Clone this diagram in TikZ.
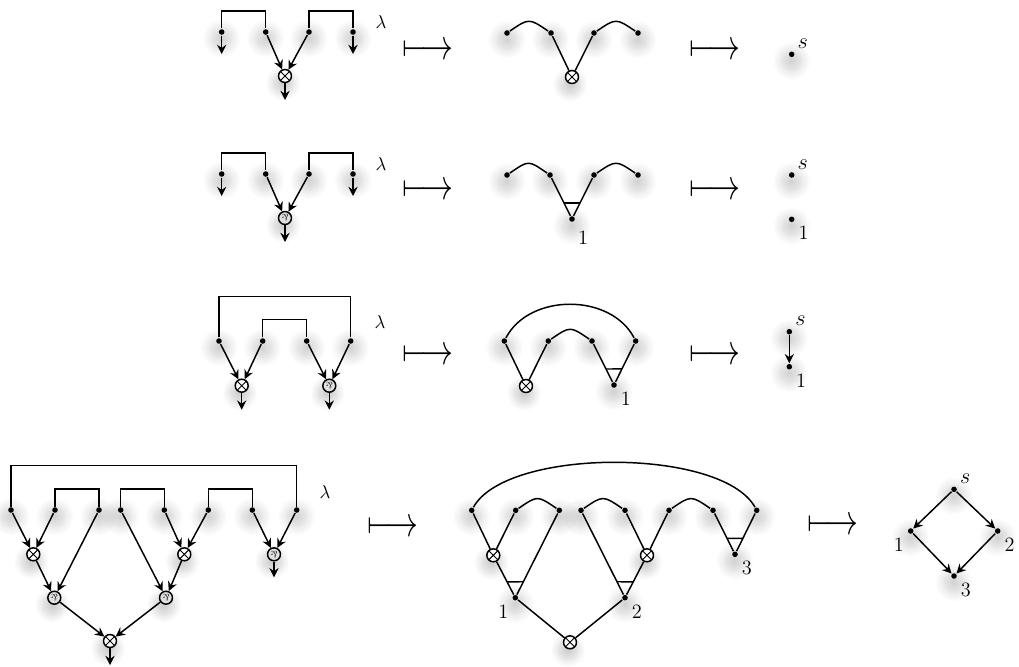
\documentclass[tikz,border=0pt]{standalone}
\usetikzlibrary{arrows.meta,calc,shadows.blur}

\tikzset{
    dot/.style={circle, fill, inner sep=0pt, minimum size=3pt,
        blur shadow={shadow xshift=0pt, shadow yshift=-1pt, shadow scale=3.6,
            shadow opacity=18, shadow blur radius=1.4pt, shadow blur steps=12}},
    tens/.style={circle, draw, fill=white, inner sep=0pt, minimum size=7pt,
        blur shadow={shadow xshift=-0.6pt, shadow yshift=-2.5pt, shadow scale=1.6,
            shadow opacity=18, shadow blur radius=2.5pt, shadow blur steps=12},
        path picture={\draw[line width=0.5pt]
            (path picture bounding box.north west) -- (path picture bounding box.south east)
            (path picture bounding box.north east) -- (path picture bounding box.south west);}},
    parr/.style={circle, draw, fill=gray!25, inner sep=0pt, minimum size=7pt,
        blur shadow={shadow xshift=-0.6pt, shadow yshift=-2.5pt, shadow scale=1.6,
            shadow opacity=18, shadow blur radius=2.5pt, shadow blur steps=12}},
    arr/.style={-{Stealth[length=5pt,width=5pt,inset=1.7pt]}},
    lbl/.style={inner sep=2pt, font=\fontsize{11}{13}\selectfont},
    slbl/.style={inner sep=1.5pt, font=\fontsize{13}{15}\selectfont},
    mapsto/.style={font=\fontsize{16}{16}\selectfont},
}
\newcommand{\parsym}{\scalebox{0.5}{\rotatebox[origin=c]{180}{\&}}}
\newcommand{\mapsym}{\scalebox{1}[1.35]{$\longmapsto$}}
\newcommand{\tribar}[3]{\draw ($(#1)!0.34cm!(#2)$) -- ($(#1)!0.34cm!(#3)$);}

\begin{document}
\begin{tikzpicture}[x=0.019cm, y=-0.019cm, line width=0.8pt]
        \useasboundingbox (0,0) rectangle (1019,666);
        % first row
        \foreach \x [count=\i] in {221.7,265.7,309,353} \node[dot] (a\i) at (\x,32) {};
        \node[tens] (ta) at (285,76) {};
        \draw (a1) -- ++(0,-21) -| (a2);
        \draw (a3) -- ++(0,-21) -| (a4);
        \draw[arr] (a1) -- ++(0,22);
        \draw[arr] (a4) -- ++(0,22);
        \draw[arr] (a2) -- (ta);
        \draw[arr] (a3) -- (ta);
        \draw[arr] (ta) -- ++(0,24);
        \node (la) at (381,22) {$\lambda$};
        \node[mapsto] (fa1) at (428,52) {\mapsym};
        \foreach \x [count=\i] in {507,551,594,638} \node[dot] (b\i) at (\x,33) {};
        \node[tens] (tb) at (572,77) {};
        \draw (b1) .. controls +(22,-15) and +(-22,-15) .. (b2);
        \draw (b3) .. controls +(22,-15) and +(-22,-15) .. (b4);
        \draw (b2) -- (tb);
        \draw (b3) -- (tb);
        \node[mapsto] (fa2) at (715,52) {\mapsym};
        \node[dot, label={[slbl]above right:$s$}] (sa) at (791.7,54.3) {};
        % second row
        \foreach \x [count=\i] in {221.7,265.7,309,353} \node[dot] (c\i) at (\x,174) {};
        \node[parr] (pc) at (285,218) {\parsym};
        \draw (c1) -- ++(0,-21) -| (c2);
        \draw (c3) -- ++(0,-21) -| (c4);
        \draw[arr] (c1) -- ++(0,22);
        \draw[arr] (c4) -- ++(0,22);
        \draw[arr] (c2) -- (pc);
        \draw[arr] (c3) -- (pc);
        \draw[arr] (pc) -- ++(0,24);
        \node (lc) at (381,164) {$\lambda$};
        \node[mapsto] (fc1) at (428,192) {\mapsym};
        \foreach \x [count=\i] in {507,550,594,638} \node[dot] (d\i) at (\x,175) {};
        \node[dot, label={[lbl, label distance=2pt, xshift=6pt]below:1}] (nd) at (572,219) {};
        \draw (d1) .. controls +(22,-15) and +(-22,-15) .. (d2);
        \draw (d3) .. controls +(22,-15) and +(-22,-15) .. (d4);
        \draw (d2) -- (nd);
        \draw (d3) -- (nd);
        \tribar{nd}{d2}{d3}
        \node[mapsto] (fc2) at (715,192) {\mapsym};
        \node[dot, label={[slbl]above right:$s$}] (sc) at (791.7,175) {};
        \node[dot, label={[lbl]below right:1}] (oc) at (791.7,219.3) {};
        % third row
        \foreach \x [count=\i] in {219,262.7,306.7,350.7} \node[dot] (e\i) at (\x,341) {};
        \node[tens] (te) at (241.7,385.7) {};
        \node[parr] (pe) at (329.3,385.7) {\parsym};
        \draw (e1) -- ++(0,-44.3) -| (e4);
        \draw (e2) -- ++(0,-21.7) -| (e3);
        \draw[arr] (e1) -- (te);
        \draw[arr] (e2) -- (te);
        \draw[arr] (e3) -- (pe);
        \draw[arr] (e4) -- (pe);
        \draw[arr] (te) -- ++(0,24);
        \draw[arr] (pe) -- ++(0,24);
        \node (le) at (380,321.7) {$\lambda$};
        \node[mapsto] (fe1) at (428,357) {\mapsym};
        \foreach \x [count=\i] in {504.3,548.3,592,635.7} \node[dot] (g\i) at (\x,341) {};
        \node[tens] (tg) at (526,386) {};
        \node[dot, label={[lbl]below right:1}] (ng) at (614,385) {};
        \draw (g1) .. controls +(25,-48) and +(-25,-48) .. (g4);
        \draw (g2) .. controls +(22,-15) and +(-22,-15) .. (g3);
        \draw (g1) -- (tg);
        \draw (g2) -- (tg);
        \draw (g3) -- (ng);
        \draw (g4) -- (ng);
        \tribar{ng}{g3}{g4}
        \node[mapsto] (fe2) at (715,357) {\mapsym};
        \node[dot, label={[slbl]above right:$s$}] (se) at (789.3,331.7) {};
        \node[dot, label={[lbl]below right:1}] (oe) at (789.3,366.7) {};
        \draw[arr] (se) -- (oe);
        % fourth row
        \foreach \x [count=\i] in {11,55,99,120.7,164.3,208.3,252.3,296.7} \node[dot] (p\i) at (\x,510) {};
        \node[tens] (tp1) at (33.3,554.3) {};
        \node[parr] (pp1) at (54.3,597.7) {\parsym};
        \node[tens] (tp2) at (184.3,554.3) {};
        \node[parr] (pp2) at (166,597.7) {\parsym};
        \node[parr] (pp3) at (274,554.3) {\parsym};
        \node[tens] (tp3) at (110,641) {};
        \draw (p1) -- ++(0,-44.3) -| (p8);
        \draw (p2) -- ++(0,-21) -| (p3);
        \draw (p4) -- ++(0,-21) -| (p5);
        \draw (p6) -- ++(0,-21) -| (p7);
        \draw[arr] (p1) -- (tp1);
        \draw[arr] (p2) -- (tp1);
        \draw[arr] (tp1) -- (pp1);
        \draw[arr] (p3) -- (pp1);
        \draw[arr] (p4) -- (pp2);
        \draw[arr] (p5) -- (tp2);
        \draw[arr] (p6) -- (tp2);
        \draw[arr] (tp2) -- (pp2);
        \draw[arr] (p7) -- (pp3);
        \draw[arr] (p8) -- (pp3);
        \draw[arr] (pp1) -- (tp3);
        \draw[arr] (pp2) -- (tp3);
        \draw[arr] (tp3) -- ++(0,24);
        \draw[arr] (pp3) -- ++(0,23);
        \node (lp) at (325,491.7) {$\lambda$};
        \node[mapsto] (fp1) at (393,529) {\mapsym};
        \foreach \x [count=\i] in {471.7,515.7,559.3,581,625,669,713,756.7} \node[dot] (q\i) at (\x,510.3) {};
        \node[tens] (tq1) at (493.3,555.3) {};
        \node[tens] (tq2) at (647,555.3) {};
        \node[tens] (tq3) at (570,642.3) {};
        \node[dot, label={[lbl]below left:1}] (nq1) at (515.3,597.7) {};
        \node[dot, label={[lbl]below right:2}] (nq2) at (625,597.7) {};
        \node[dot, label={[lbl]below right:3}] (nq3) at (735,554.3) {};
        \draw (q1) .. controls +(35,-63) and +(-35,-63) .. (q8);
        \draw (q2) .. controls +(22,-15) and +(-22,-15) .. (q3);
        \draw (q4) .. controls +(22,-15) and +(-22,-15) .. (q5);
        \draw (q6) .. controls +(22,-15) and +(-22,-15) .. (q7);
        \draw (q1) -- (tq1);
        \draw (q2) -- (tq1);
        \draw (tq1) -- (nq1);
        \draw (q3) -- (nq1);
        \draw (q4) -- (nq2);
        \draw (q5) -- (tq2);
        \draw (q6) -- (tq2);
        \draw (tq2) -- (nq2);
        \draw (q7) -- (nq3);
        \draw (q8) -- (nq3);
        \draw (nq1) -- (tq3);
        \draw (nq2) -- (tq3);
        \tribar{nq1}{tq1}{q3}
        \tribar{nq2}{q4}{tq2}
        \tribar{nq3}{q7}{q8}
        \node[mapsto] (fp2) at (833,527) {\mapsym};
        \node[dot, label={[slbl]above right:$s$}] (sq) at (954,489.3) {};
        \node[dot, label={[lbl]below left:1}] (rq1) at (910.7,531) {};
        \node[dot, label={[lbl]below right:2}] (rq2) at (997.7,531) {};
        \node[dot, label={[lbl]below right:3}] (rq3) at (954,576) {};
        \draw[arr] (sq) -- (rq1);
        \draw[arr] (sq) -- (rq2);
        \draw[arr] (rq1) -- (rq3);
        \draw[arr] (rq2) -- (rq3);
\end{tikzpicture}
\end{document}
